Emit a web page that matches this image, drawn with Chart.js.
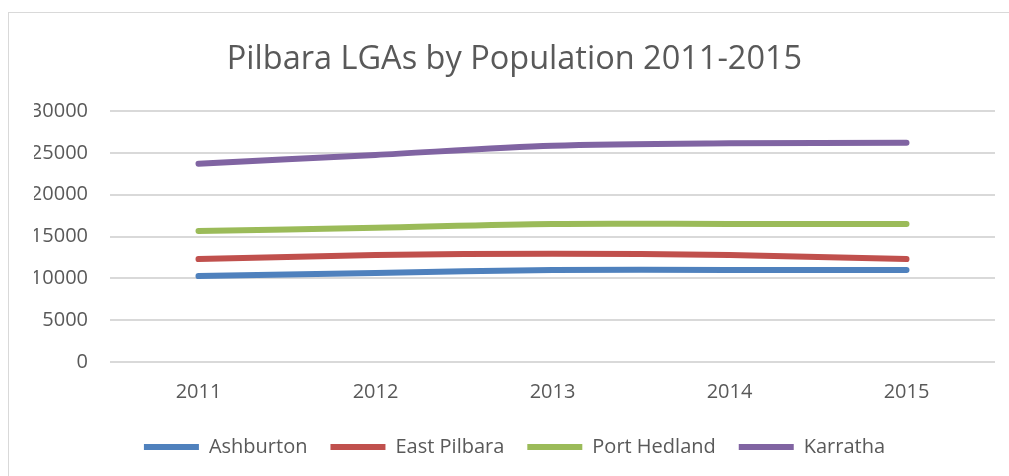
<!DOCTYPE html>
<html>
<head>
<meta charset="utf-8">
<script src="https://cdn.jsdelivr.net/npm/chart.js@4"></script>
<style>
  html, body { margin: 0; padding: 0; background: #fff; overflow: hidden; }
  #box { position: absolute; left: 8px; top: 12px; width: 1010px; height: 470px; border: 1px solid #d9d9d9; }
  canvas { display: block; }
</style>
</head>
<body>
<div id="box"><canvas id="popChart" width="1000" height="463"></canvas></div>
<script>
// Chart data
const years = ['2011', '2012', '2013', '2014', '2015'];
const ashburton = [10270, 10650, 11000, 11000, 11000];
const eastPilbara = [12300, 12780, 12950, 12780, 12300];
const portHedland = [15650, 16050, 16500, 16500, 16500];
const karratha = [23700, 24750, 25850, 26150, 26200];
const yTicks = [0, 5000, 10000, 15000, 20000, 25000, 30000];

const textColor = '#595959';
const font = "'Open Sans', sans-serif";

function series(label, data, color) {
    return {
        label: label,
        data: data,
        borderColor: color,
        backgroundColor: color,
        borderWidth: 6,
        borderCapStyle: 'round',
        pointRadius: 0,
        tension: 0.3,
        fill: false
    };
}

const ctx = document.getElementById('popChart').getContext('2d');
const popChart = new Chart(ctx, {
    type: 'line',
    data: {
        labels: years,
        datasets: [
            series('Ashburton', ashburton, '#4f81bd'),
            series('East Pilbara', eastPilbara, '#c0504d'),
            series('Port Hedland', portHedland, '#9bbb59'),
            series('Karratha', karratha, '#8064a2')
        ]
    },
    options: {
        responsive: false,
        animation: false,
        layout: { padding: { left: 25, right: 14, top: 10, bottom: 9 } },
        plugins: {
            title: {
                display: true,
                text: 'Pilbara LGAs by Population 2011-2015',
                color: textColor,
                font: { family: font, size: 32.5, weight: 'normal' },
                padding: { top: 17, bottom: 32 }
            },
            legend: {
                display: true,
                position: 'bottom',
                labels: {
                    color: textColor,
                    font: { family: font, size: 20 },
                    usePointStyle: true,
                    pointStyle: 'line',
                    pointStyleWidth: 55,
                    padding: 23
                }
            },
            tooltip: { enabled: false }
        },
        scales: {
            x: {
                offset: true,
                grid: { display: false },
                border: { display: false },
                ticks: { color: textColor, font: { family: font, size: 20 }, padding: 10 }
            },
            y: {
                min: 0,
                max: 30000,
                afterBuildTicks: axis => { axis.ticks = yTicks.map(v => ({ value: v })); },
                afterFit: axis => { axis.width = 76; },
                grid: { color: '#d9d9d9', lineWidth: 2, drawTicks: false },
                border: { display: false },
                ticks: { color: textColor, font: { family: font, size: 20 }, padding: 22, callback: v => String(v) }
            }
        }
    }
});
</script>
</body>
</html>
